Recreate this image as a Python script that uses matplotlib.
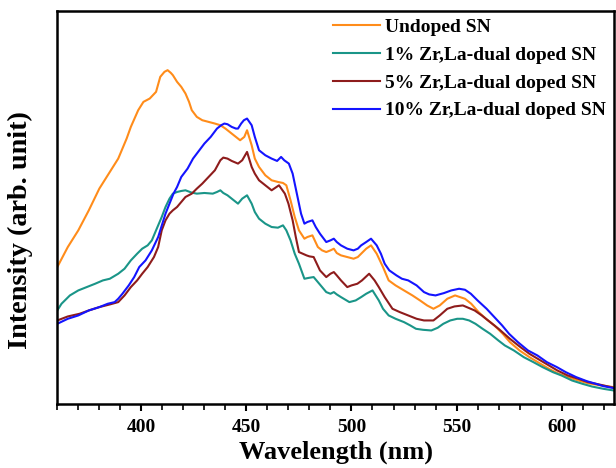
import numpy as np
import matplotlib
matplotlib.use("Agg")
import matplotlib.pyplot as plt
from matplotlib.ticker import MultipleLocator

# values (intensity in arbitrary units)
wl_undoped = [360, 365, 370, 375, 380, 385, 389, 393, 395, 398.5, 401, 404, 407, 409, 411, 412.5, 414,
              415, 417, 419, 421, 422.7, 424, 426.4, 429, 432, 435, 437.6, 440, 443, 445, 447, 449, 450.3, 452.5,
              454, 456, 459, 462, 465, 467.4, 469, 471, 473, 475, 477.6, 479, 481.4, 484, 486, 488, 490, 491.6,
              493, 495, 498, 501, 503, 504.6, 507, 509.3, 512, 515, 517.7, 521, 525, 529, 532.6, 536, 539, 542,
              545.6, 549.3, 554, 557, 560.5, 564, 568, 572, 575.4, 580, 584.7, 590, 594, 598, 603, 608, 612.6,
              618, 625]
int_undoped = [410, 470, 520, 580, 645, 695, 735, 795, 830, 880, 905, 915, 935, 980, 995, 1000, 992,
               985, 965, 950, 930, 905, 880, 860, 850, 845, 840, 835, 825, 810, 800, 790, 800, 820, 775,
               735, 710, 685, 670, 665, 662, 655, 610, 560, 520, 495, 500, 505, 470, 460, 455, 460, 465,
               452, 445, 440, 435, 440, 450, 465, 475, 450, 410, 370, 355, 340, 325, 310, 295, 285, 295,
               315, 325, 315, 300, 275, 255, 235, 210, 185, 160, 140, 120, 105, 92, 80, 70, 62, 56, 50]

wl_1 = [360, 362, 366, 370, 374, 378, 381.7, 385, 389, 392, 395, 398, 400.4, 403, 405, 407, 409.7, 411.5,
        413.4, 415, 417, 419, 421, 424, 426.4, 430, 434, 436, 437.6, 439, 441, 443, 446, 448, 450.3, 452.5,
        454, 456, 459, 462, 465, 467.4, 469, 471, 473, 475, 477.6, 480, 482, 484, 486, 488, 490, 491.6,
        493, 495, 499, 502, 504.6, 507, 510, 513, 515, 517.7, 521, 525, 528, 530.7, 534, 538, 541, 543.7,
        547, 550.3, 553, 556, 559, 562.4, 566, 569.9, 573, 577.3, 582, 586.6, 591, 595.9, 600, 605, 610,
        614.5, 620, 625]
int_1 = [280, 300, 325, 340, 350, 360, 370, 375, 390, 405, 430, 450, 465, 475, 490, 520, 560, 590,
         615, 630, 635, 638, 640, 633, 630, 632, 630, 635, 640, 632, 625, 615, 600, 615, 625, 600,
         575, 555, 540, 530, 528, 535, 520, 490, 450, 420, 375, 378, 380, 365, 350, 335, 330, 335,
         328, 320, 305, 310, 320, 330, 340, 310, 285, 265, 255, 245, 235, 225, 222, 220, 228, 240,
         250, 255, 255, 250, 240, 225, 210, 190, 175, 160, 140, 125, 110, 95, 85, 70, 60,
         52, 45, 40]

wl_5 = [360, 365, 370.6, 375, 380, 385, 389, 392, 395, 398, 400.4, 403, 406, 408, 409.7, 411.5, 413.4, 415,
        417, 419, 421, 424, 426.4, 429, 432, 435, 437.6, 439, 441, 443, 446, 448, 450.3, 452.5, 454, 456,
        459, 462, 465.5, 468.3, 470, 472, 473.5, 475, 478.6, 480, 482, 485, 488, 490, 491.6, 493, 495,
        498, 500, 502.8, 505, 508.4, 511, 513, 515.8, 519.5, 523, 527, 531, 534.5, 539, 542, 545.6, 549,
        553, 558.6, 562, 566, 570, 575.4, 580, 584.7, 590, 594, 598, 603, 608, 612.6, 618, 625]
int_5 = [250, 262, 270, 280, 290, 298, 305, 325, 350, 370, 390, 410, 440, 470, 520, 550, 570, 580,
         590, 605, 620, 630, 645, 660, 680, 700, 730, 738, 735, 728, 720, 730, 755, 710, 690, 670,
         655, 640, 655, 630, 600, 550, 500, 455, 445, 442, 440, 400, 380, 390, 395, 385, 370,
         350, 355, 360, 370, 390, 370, 350, 320, 285, 275, 265, 255, 250, 250, 265, 285, 292,
         295, 280, 265, 245, 225, 195, 172, 150, 130, 115, 100, 85, 75, 65, 58, 48]

wl_10 = [360, 365, 370, 375, 380, 384, 387.3, 389, 391, 394, 396.6, 399, 402, 405, 408, 410, 411.5, 413.4,
         415.3, 417, 419, 422, 424.6, 427, 430, 433, 436, 438, 439.5, 441, 443, 445, 446, 447.5, 448.8,
         450.3, 452.5, 454, 456, 459, 462, 464.6, 466.5, 468, 470.2, 472, 474, 476, 477.6, 479, 481.4,
         483, 485, 488, 490, 491.6, 493, 495, 498, 501, 503, 504.6, 507, 509.3, 512, 514, 515.8, 518,
         521.4, 524, 527, 531, 534.5, 537, 540, 544, 547.5, 551.2, 554, 556.8, 560, 564.3, 568, 571.7,
         575, 579.2, 584, 588.5, 593, 597.8, 602, 607, 612, 616.4, 620, 625]
int_10 = [240, 255, 265, 280, 290, 300, 305, 315, 330, 355, 380, 410, 430, 460, 500, 540, 570, 600,
          630, 650, 680, 705, 735, 755, 780, 800, 825, 835, 840, 838, 830, 825, 825, 840, 850,
          855, 835, 800, 760, 745, 735, 728, 740, 730, 720, 690, 630, 570, 540, 545, 550,
          530, 510, 485, 490, 495, 485, 475, 465, 460, 465, 475, 485, 495, 475, 450, 420, 400,
          385, 375, 370, 355, 335, 328, 325, 332, 340, 345, 342, 330, 310, 285, 260, 235,
          210, 185, 160, 145, 125, 110, 95, 80, 68, 60, 53, 47]

labels = ["Undoped SN", "1% Zr,La-dual doped SN", "5% Zr,La-dual doped SN", "10% Zr,La-dual doped SN"]
colors = ["#ff8c1a", "#1a9588", "#8e1c1c", "#1414ff"]

plt.rcParams['font.family'] = ['Liberation Serif', 'DejaVu Serif']
plt.rcParams['font.weight'] = 'bold'

fig = plt.figure(figsize=(6.16, 4.68), dpi=100)
ax = fig.add_axes([0.093, 0.137, 0.904, 0.840])

series = [(wl_undoped, int_undoped), (wl_1, int_1), (wl_5, int_5), (wl_10, int_10)]
for (w, i), lab, c in zip(series, labels, colors):
    ax.plot(w, i, color=c, lw=1.5, label=lab)

ax.set_xlim(360, 625)
ax.set_ylim(0, 1178)
ax.xaxis.set_major_locator(MultipleLocator(50))
ax.xaxis.set_minor_locator(MultipleLocator(10))
ax.set_yticks([])
ax.tick_params(axis='x', which='major', direction='out', length=5, width=1.5, labelsize=14, pad=6)
ax.tick_params(axis='x', which='minor', direction='out', length=4, width=1.2)
for t in ax.get_xticklabels():
    t.set_fontweight('bold')
for s in ax.spines.values():
    s.set_linewidth(1.8)

ax.set_xlabel("Wavelength (nm)", fontsize=19, fontweight='bold', labelpad=3)
ax.set_ylabel("Intensity (arb. unit)", fontsize=20.3, fontweight='bold')
ax.yaxis.set_label_coords(-0.043, 0.443)

leg = ax.legend(loc='upper right', frameon=False, fontsize=14, handlelength=2.4,
                handletextpad=0.3, labelspacing=0.52, borderaxespad=0.0,
                bbox_to_anchor=(1.0, 1.0))
for t in leg.get_texts():
    t.set_fontweight('bold')

fig.savefig("out.png", dpi=100)
